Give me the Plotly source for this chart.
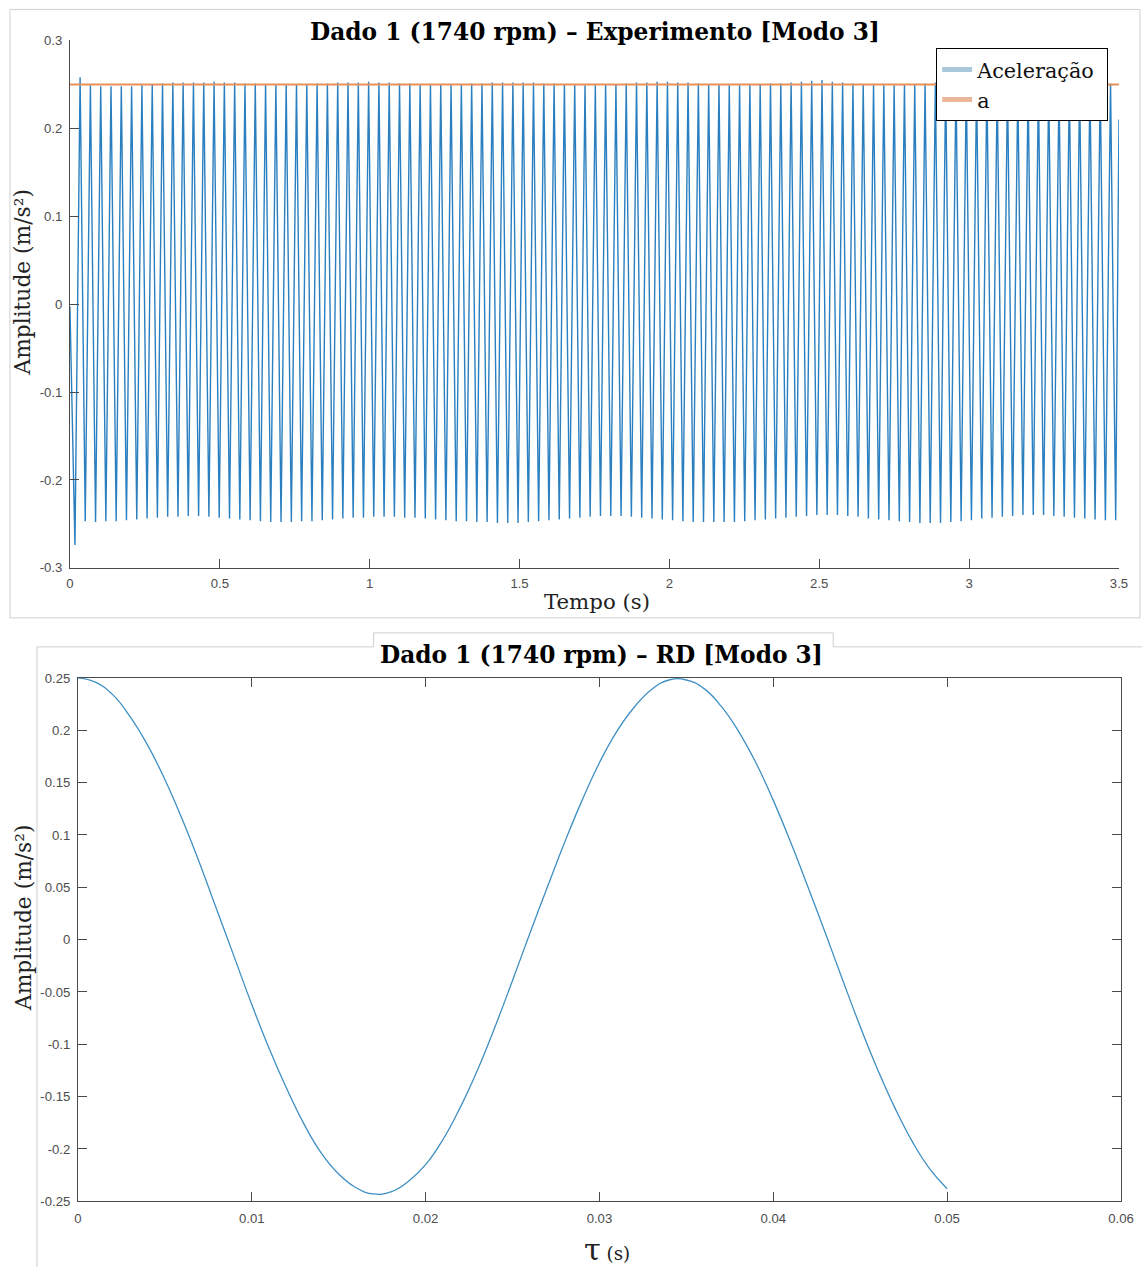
import plotly.graph_objects as go

W, H = 1155, 1276
# the photographed page shows figure pixel p at  a*p + b ; place items so they land where wanted
SX, BX = 0.9862, 3.0
SY, BY = 0.9875, 7.6
FS = 1 / 0.987   # font compensation

# ---------------- data: top panel (Experimento) ----------------
t_start, v_start = 0.0, -0.003          # first sample
t_end, v_end = 3.5, 0.21                # last sample
first_extreme_t = 0.0167                # time of first trough (s)
half_period = 0.01719                   # time between successive extremes (s)

trough_values = [
    -0.274,
    -0.247, -0.248, -0.247, -0.247, -0.246,
    -0.245, -0.244, -0.243, -0.242, -0.242,
    -0.241, -0.241, -0.242, -0.243, -0.244,
    -0.245, -0.246, -0.247, -0.248, -0.248,
    -0.248, -0.247, -0.247, -0.246, -0.245,
    -0.244, -0.243, -0.243, -0.242, -0.242,
    -0.242, -0.243, -0.243, -0.244, -0.245,
    -0.246, -0.247, -0.247, -0.248, -0.248,
    -0.249, -0.249, -0.249, -0.248, -0.247,
    -0.246, -0.245, -0.244, -0.243, -0.242,
    -0.241, -0.241, -0.241, -0.242, -0.243,
    -0.244, -0.245, -0.246, -0.247, -0.248,
    -0.248, -0.248, -0.248, -0.248, -0.247,
    -0.246, -0.245, -0.244, -0.243, -0.242,
    -0.241, -0.240, -0.240, -0.240, -0.241,
    -0.242, -0.244, -0.245, -0.246, -0.247,
    -0.248, -0.249, -0.249, -0.249, -0.248,
    -0.247, -0.246, -0.244, -0.243, -0.242,
    -0.241, -0.240, -0.240, -0.240, -0.241,
    -0.242, -0.243, -0.244, -0.245, -0.246, -0.246,
]

peak_values = [
    0.258,
    0.249, 0.248, 0.248, 0.248, 0.248,
    0.249, 0.250, 0.251, 0.252, 0.252,
    0.252, 0.252, 0.253, 0.252, 0.252,
    0.251, 0.251, 0.250, 0.250, 0.250,
    0.250, 0.250, 0.251, 0.251, 0.252,
    0.252, 0.252, 0.253, 0.252, 0.252,
    0.251, 0.251, 0.250, 0.250, 0.250,
    0.250, 0.250, 0.251, 0.251, 0.252,
    0.252, 0.252, 0.252, 0.252, 0.251,
    0.251, 0.250, 0.250, 0.249, 0.249,
    0.250, 0.250, 0.251, 0.252, 0.252,
    0.253, 0.253, 0.252, 0.252, 0.251,
    0.250, 0.250, 0.249, 0.249, 0.250,
    0.250, 0.251, 0.251, 0.252, 0.253,
    0.254, 0.255, 0.253, 0.252, 0.251,
    0.250, 0.250, 0.249, 0.249, 0.250,
    0.250, 0.251, 0.252, 0.252, 0.253,
    0.253, 0.252, 0.252, 0.251, 0.250,
    0.250, 0.249, 0.249, 0.250, 0.250,
    0.251, 0.251, 0.252, 0.252, 0.251,
]

reference_level = 0.25      # the line "a"
top_x_range = [0, 3.5]
top_y_range = [-0.3, 0.3]
top_x_ticks = [0, 0.5, 1, 1.5, 2, 2.5, 3, 3.5]
top_x_ticklabels = ["0", "0.5", "1", "1.5", "2", "2.5", "3", "3.5"]
top_y_ticks = [-0.3, -0.2, -0.1, 0, 0.1, 0.2, 0.3]
top_y_ticklabels = ["-0.3", "-0.2", "-0.1", "0", "0.1", "0.2", "0.3"]

# ---------------- data: bottom panel (RD) ----------------
tau_step = 0.001
rd_values = [
    0.250, 0.246, 0.234, 0.213, 0.186, 0.153, 0.115, 0.073, 0.028, -0.017,
    -0.062, -0.104, -0.142, -0.176, -0.204, -0.224, -0.237, -0.243, -0.241, -0.231,
    -0.215, -0.191, -0.160, -0.124, -0.083, -0.039, 0.006, 0.050, 0.093, 0.133,
    0.169, 0.199, 0.222, 0.239, 0.248, 0.248, 0.240, 0.223, 0.199, 0.169,
    0.133, 0.093, 0.050, 0.006, -0.039, -0.083, -0.124, -0.161, -0.193, -0.219,
    -0.238,
]
bot_x_range = [0, 0.06]
bot_y_range = [-0.25, 0.25]
bot_x_ticks = [0, 0.01, 0.02, 0.03, 0.04, 0.05, 0.06]
bot_x_ticklabels = ["0", "0.01", "0.02", "0.03", "0.04", "0.05", "0.06"]
bot_y_ticks = [-0.25, -0.2, -0.15, -0.1, -0.05, 0, 0.05, 0.1, 0.15, 0.2, 0.25]
bot_y_ticklabels = ["-0.25", "-0.2", "-0.15", "-0.1", "-0.05", "0", "0.05",
                    "0.1", "0.15", "0.2", "0.25"]

# ---------------- build series ----------------
ext_vals = []
for i in range(len(trough_values)):
    ext_vals.append(trough_values[i])
    if i < len(peak_values):
        ext_vals.append(peak_values[i])
ext_t = [first_extreme_t + i * half_period for i in range(len(ext_vals))]
sig_t = [t_start] + ext_t + [t_end]
sig_v = [v_start] + ext_vals + [v_end]

tau = [i * tau_step for i in range(len(rd_values))]


def px(x):
    return ((x - BX) / SX) / W


def py(y):
    return 1 - ((y - BY) / SY) / H


def fs(s):
    return round(s * FS, 2)


fig = go.Figure()

fig.add_trace(go.Scatter(x=sig_t, y=sig_v, mode="lines",
                         line=dict(color="#2a7fc0", width=1.4),
                         showlegend=False, xaxis="x", yaxis="y"))
fig.add_trace(go.Scatter(x=top_x_range, y=[reference_level, reference_level], mode="lines",
                         line=dict(color="#e8905a", width=2),
                         showlegend=False, xaxis="x", yaxis="y"))
# legend entries
fig.add_trace(go.Scatter(x=[None], y=[None], mode="lines", name="Aceleração\u00a0",
                         line=dict(color="#a9c8d9", width=5), xaxis="x", yaxis="y"))
fig.add_trace(go.Scatter(x=[None], y=[None], mode="lines", name="a",
                         line=dict(color="#ebb799", width=5), xaxis="x", yaxis="y"))

fig.add_trace(go.Scatter(x=tau, y=rd_values, mode="lines",
                         line=dict(color="#3e8fc2", width=1.3, shape="spline", smoothing=1.3),
                         showlegend=False, xaxis="x2", yaxis="y2"))

axis_col = "#4a4a4a"
tick_font = dict(family="Liberation Sans, Arial", size=fs(13), color="#4d4d4d")

common = dict(showgrid=False, zeroline=False, showline=True, linecolor=axis_col,
              linewidth=1, ticks="inside", ticklen=9, tickcolor=axis_col,
              tickwidth=1, tickfont=tick_font, tickmode="array")

fig.update_layout(
    width=W, height=H,
    margin=dict(l=0, r=0, t=0, b=0),
    paper_bgcolor="white", plot_bgcolor="white",
    xaxis=dict(domain=[px(69), px(1119)], range=top_x_range, anchor="y",
               tickvals=top_x_ticks, ticktext=top_x_ticklabels, ticklabelstandoff=3, **common),
    yaxis=dict(domain=[py(568), py(41)], range=top_y_range, anchor="x",
               tickvals=top_y_ticks, ticktext=top_y_ticklabels, ticklabelstandoff=4, **common),
    xaxis2=dict(domain=[px(77), px(1121)], range=bot_x_range, anchor="y2",
                tickvals=bot_x_ticks, ticktext=bot_x_ticklabels, mirror="ticks",
                ticklabelstandoff=5, **common),
    yaxis2=dict(domain=[py(1201), py(678)], range=bot_y_range, anchor="x2",
                tickvals=bot_y_ticks, ticktext=bot_y_ticklabels, mirror="ticks",
                ticklabelstandoff=4, **common),
    legend=dict(x=px(936), y=py(49), xanchor="left", yanchor="top",
                bgcolor="white", bordercolor="black", borderwidth=1,
                font=dict(family="DejaVu Serif", size=fs(20.5), color="#111111"),
                tracegroupgap=0),
    showlegend=True,
)

serif = "DejaVu Serif"
annotations = [
    dict(text="<b>Dado 1 (1740 rpm) – Experimento [Modo 3]</b>", x=px(595), y=py(32),
         font=dict(family=serif, size=fs(23), color="black")),
    dict(text="<b>Dado 1 (1740 rpm) – RD [Modo 3]</b>", x=px(601), y=py(655),
         font=dict(family=serif, size=fs(23), color="black")),
    dict(text="Tempo (s)", x=px(597), y=py(602),
         font=dict(family=serif, size=fs(21), color="#222222")),
    dict(text=f"<span style='font-size:{fs(30)}px'>τ</span> (s)", x=px(607), y=py(1249),
         font=dict(family=serif, size=fs(18), color="#222222")),
    dict(text="Amplitude (m/s²)", x=px(22), y=py(282), textangle=-90,
         font=dict(family=serif, size=fs(21.5), color="#222222")),
    dict(text="Amplitude (m/s²)", x=px(22), y=py(917), textangle=-90,
         font=dict(family=serif, size=fs(21.5), color="#222222")),
]
for a in annotations:
    a.update(xref="paper", yref="paper", showarrow=False, xanchor="center", yanchor="middle")
fig.update_layout(annotations=annotations)

border = "#cfcfcf"
shapes = [
    dict(type="rect", xref="paper", yref="paper", x0=px(9), x1=px(1140), y0=py(618), y1=py(10),
         line=dict(color=border, width=1), fillcolor="rgba(0,0,0,0)", layer="below"),
    dict(type="path", xref="paper", yref="paper",
         path=f"M {px(36)},{py(1267)} L {px(36)},{py(647)} L {px(373)},{py(647)} "
              f"L {px(373)},{py(633)} L {px(833)},{py(633)} L {px(833)},{py(647)} "
              f"L {px(1142)},{py(647)}",
         line=dict(color=border, width=1), layer="below"),
]
fig.update_layout(shapes=shapes)

fig.write_html("out.html")
